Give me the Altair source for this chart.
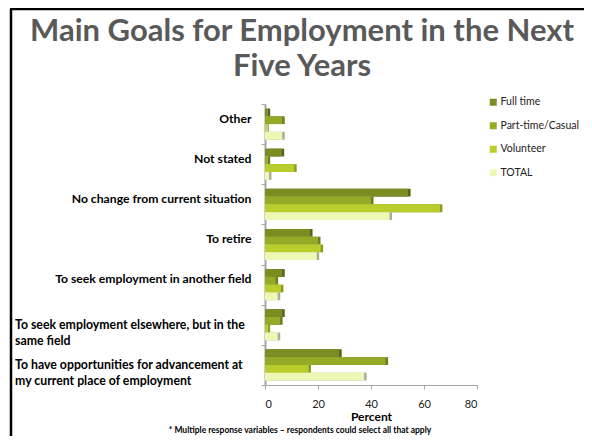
import altair as alt
import pandas as pd

categories = [
    "Other",
    "Not stated",
    "No change from current situation",
    "To retire",
    "To seek employment in another field",
    "To seek employment elsewhere, but in the same field",
    "To have opportunities for advancement at my current place of employment",
]
wrapped = {
    "To seek employment elsewhere, but in the same field": "To seek employment elsewhere, but in the|same field",
    "To have opportunities for advancement at my current place of employment": "To have opportunities for advancement at|my current place of employment",
}
series = ["Full time", "Part-time/Casual", "Volunteer", "TOTAL"]
full_time = [1, 6.3, 54, 17, 6.5, 6.5, 28]
part_time = [6.5, 1, 40, 20, 4, 5.7, 45.5]
volunteer = [0.5, 11, 66, 21, 6, 1, 16.4]
total = [6.5, 1.5, 47, 19.5, 4.8, 4.8, 37.4]
colors = ["#7A8C22", "#95AA27", "#BACD2C", "#EEF8B4"]
side_colors = ["#56631A", "#6C7E1E", "#8C9C22", "#A9AE94"]
x_ticks = [0, 20, 40, 60, 80]

title_lines = "Main Goals for Employment in the Next|Five Years"
footnote = "* Multiple response variables \u2013 respondents could select all that apply"

rows = []
for s, vals in zip(series, [full_time, part_time, volunteer, total]):
    for c, v in zip(categories, vals):
        rows.append({"category": c, "series": s, "side": s, "value": v})
df = pd.DataFrame(rows)

FONT = "Lato"

y_enc = alt.Y(
    "category:N",
    sort=categories,
    scale=alt.Scale(paddingInner=0, paddingOuter=0),
    axis=alt.Axis(
        title=None,
        labelExpr="indexof(datum.label, 'To seek employment elsewhere') >= 0 || indexof(datum.label, 'To have opportunities') >= 0 ? '' : datum.label",
        labelFont=FONT,
        labelFontWeight="bold",
        labelFontSize=12.2,
        labelColor="#000000",
        labelPadding=10,
        labelOffset=-6,
        labelLimit=300,
        tickBand="extent",
        tickColor="#A6A6A6",
        tickSize=4,
        domainColor="#A6A6A6",
        domainWidth=2,
    ),
)

x_enc = alt.X(
    "value:Q",
    scale=alt.Scale(domain=[0, 80], nice=False),
    axis=alt.Axis(
        values=x_ticks,
        title="Percent",
        titleFont=FONT,
        titleFontWeight="bold",
        titleFontSize=12,
        titleColor="#000000",
        titlePadding=2,
        labelFont=FONT,
        labelFontSize=11,
        labelColor="#222222",
        labelPadding=9,
        tickColor="#A6A6A6",
        tickSize=4,
        domainColor="#A6A6A6",
        grid=False,
    ),
)
yoff = alt.YOffset("series:N", sort=series, scale=alt.Scale(paddingInner=0, paddingOuter=0.58))

shadow = alt.Chart(df).mark_bar(xOffset=2.5, yOffset=-2).encode(
    x=x_enc,
    y=y_enc,
    yOffset=yoff,
    color=alt.Color("side:N", sort=series, scale=alt.Scale(domain=series, range=side_colors), legend=None),
)

bars = alt.Chart(df).mark_bar().encode(
    x=x_enc,
    y=y_enc,
    yOffset=yoff,
    fill=alt.Fill(
        "series:N",
        sort=series,
        scale=alt.Scale(domain=series, range=colors),
        legend=alt.Legend(
            title=None,
            orient="none",
            legendX=223,
            legendY=-7,
            symbolType="square",
            symbolSize=49,
            symbolStrokeWidth=0,
            labelFont=FONT,
            labelFontSize=10.5,
            labelColor="#222222",
            rowPadding=12.5,
            labelOffset=2,
            labelLimit=200,
        ),
    ),
)

wrap_df = pd.DataFrame({"category": list(wrapped.keys()), "lab": list(wrapped.values())})
wrap_labels = alt.Chart(wrap_df).mark_text(
    align="left", baseline="middle", lineBreak="|", lineHeight=16,
    font=FONT, fontWeight="bold", fontSize=12.3, color="#000000",
).encode(
    x=alt.value(-250),
    y=alt.Y("category:N", sort=categories),
    text="lab:N",
)

title = alt.Chart(pd.DataFrame({"t": [title_lines]})).mark_text(
    align="center", baseline="middle", lineBreak="|", lineHeight=35,
    font=FONT, fontWeight="bold", fontSize=31, color="#595959",
).encode(x=alt.value(37), y=alt.value(-72), text="t:N")

foot = alt.Chart(pd.DataFrame({"t": [footnote]})).mark_text(
    align="center", baseline="middle", font=FONT, fontWeight="bold", fontSize=8.5, color="#000000",
).encode(x=alt.value(35), y=alt.value(325.5), text="t:N")

frame_left = alt.Chart(pd.DataFrame({"k": [0]})).mark_rule(color="#000000", strokeWidth=2.5).encode(
    x=alt.value(-254), y=alt.value(-95), y2=alt.value(340)
)
frame_top = alt.Chart(pd.DataFrame({"k": [0]})).mark_rule(color="#000000", strokeWidth=2.5).encode(
    x=alt.value(-255), x2=alt.value(330), y=alt.value(-95)
)

chart = alt.layer(shadow, bars, wrap_labels, title, foot, frame_left, frame_top).resolve_scale(
    color="independent", fill="independent"
).resolve_legend(
    color="independent", fill="independent"
).properties(
    width=212,
    height=281,
    padding={"left": 257, "top": 96, "right": 107, "bottom": 51},
    autosize=alt.AutoSizeParams(type="none"),
    background="#FFFFFF",
).configure_view(stroke=None)

chart.save("out.html", embed_options={"renderer": "svg", "actions": False})
